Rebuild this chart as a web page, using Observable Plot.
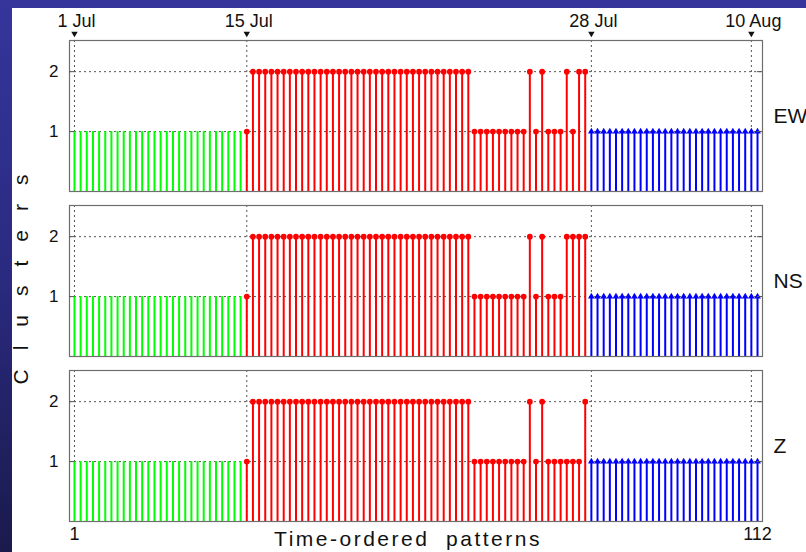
<!DOCTYPE html>
<html>
<head>
<meta charset="utf-8">
<script src="https://cdn.jsdelivr.net/npm/d3@7"></script>
<script src="https://cdn.jsdelivr.net/npm/@observablehq/plot@0.6"></script>
<style>
  html, body { margin: 0; padding: 0; }
  body { width: 806px; height: 552px; overflow: hidden; font-family: "Liberation Sans", Arial, sans-serif; }
  #bg { position: relative; width: 806px; height: 552px; background: linear-gradient(to bottom, #35359c 0%, #2a2a80 50%, #1a1a4c 100%); }
  #white { position: absolute; left: 12px; top: 8px; width: 794px; height: 544px; background: #ffffff; }
  #chart { position: absolute; left: 0; top: 0; }
  #xtitle { position: absolute; left: 208px; width: 400px; top: 528px; line-height: 22px; font-size: 21px; letter-spacing: 2.5px; text-align: center; white-space: pre; color: #111; }
  #ytitle { position: absolute; left: -109px; width: 260px; top: 259px; height: 22px; line-height: 22px; font-size: 21px; letter-spacing: 19px; text-align: center; white-space: pre; transform: rotate(-90deg); transform-origin: center; color: #111; }
</style>
</head>
<body>
<div id="bg">
  <div id="white"></div>
  <div id="chart"></div>
  <div id="xtitle">Time-ordered  patterns</div>
  <div id="ytitle">Clusters</div>
</div>
<script>
// Components (one panel each)
const components = ["EW", "NS", "Z"];

// Cluster assigned to each of the 112 time-ordered patterns (rows of 14)
const clustersEW = [
  1,1,1,1,1,1,1,1,1,1,1,1,1,1,
  1,1,1,1,1,1,1,1,1,1,1,1,1,1,
  1,2,2,2,2,2,2,2,2,2,2,2,2,2,
  2,2,2,2,2,2,2,2,2,2,2,2,2,2,
  2,2,2,2,2,2,2,2,2,1,1,1,1,1,
  1,1,1,1,2,1,2,1,1,1,2,1,2,2,
  1,1,1,1,1,1,1,1,1,1,1,1,1,1,
  1,1,1,1,1,1,1,1,1,1,1,1,1,1
];
const clustersNS = [
  1,1,1,1,1,1,1,1,1,1,1,1,1,1,
  1,1,1,1,1,1,1,1,1,1,1,1,1,1,
  1,2,2,2,2,2,2,2,2,2,2,2,2,2,
  2,2,2,2,2,2,2,2,2,2,2,2,2,2,
  2,2,2,2,2,2,2,2,2,1,1,1,1,1,
  1,1,1,1,2,1,2,1,1,1,2,2,2,2,
  1,1,1,1,1,1,1,1,1,1,1,1,1,1,
  1,1,1,1,1,1,1,1,1,1,1,1,1,1
];
const clustersZ = [
  1,1,1,1,1,1,1,1,1,1,1,1,1,1,
  1,1,1,1,1,1,1,1,1,1,1,1,1,1,
  1,2,2,2,2,2,2,2,2,2,2,2,2,2,
  2,2,2,2,2,2,2,2,2,2,2,2,2,2,
  2,2,2,2,2,2,2,2,2,1,1,1,1,1,
  1,1,1,1,2,1,2,1,1,1,1,1,1,2,
  1,1,1,1,1,1,1,1,1,1,1,1,1,1,
  1,1,1,1,1,1,1,1,1,1,1,1,1,1
];

// Periods: last pattern of each period and its colour
const periodLast = [28, 84, 112];
const periodColors = ["#00ff00", "#ff0000", "#0000ff"];

// Date markers along the top
const dateLabels = ["1 Jul", "15 Jul", "28 Jul", "10 Aug"];
const datePatterns = [1, 29, 85, 111];

// Axis ticks
const xTickValues = [1, 112];
const yTickValues = [1, 2];

// ---- build table ----
const seriesByComp = [clustersEW, clustersNS, clustersZ];
const rows = [];
components.forEach((comp, k) => {
  seriesByComp[k].forEach((v, j) => {
    const i = j + 1;
    const period = periodLast.findIndex(last => i <= last);
    rows.push({comp, i, v, period});
  });
});
const dateRows = datePatterns.map((p, k) => ({x: p, label: dateLabels[k], fy: components[0]}));
const xTickRows = xTickValues.map(x => ({x, label: String(x), fy: components[components.length - 1]}));

const XMIN = 0.19, XMAX = 112.81;
const gridStyle = {stroke: "#555", strokeWidth: 1, strokeDasharray: "2,3"};

const stemMarks = periodColors.map((c, p) =>
  Plot.ruleX(rows.filter(d => d.period === p), {x: "i", y1: 0, y2: "v", fy: "comp", stroke: c, strokeWidth: 2})
);

const chart = Plot.plot({
  width: 806,
  height: 552,
  marginTop: 39,
  marginBottom: 30,
  marginLeft: 69,
  marginRight: 44,
  style: {background: "transparent", fontFamily: "'Liberation Sans', Arial, sans-serif", overflow: "visible", color: "#111"},
  x: {domain: [XMIN, XMAX], axis: null},
  y: {domain: [0, 2.52], axis: null},
  fy: {domain: components, paddingInner: 0.0845, paddingOuter: 0, axis: null},
  marks: [
    Plot.ruleY(yTickValues, gridStyle),
    Plot.ruleX(datePatterns, gridStyle),
    ...stemMarks,
    Plot.dot(rows.filter(d => d.period === 1), {x: "i", y: "v", fy: "comp", r: 2.9, fill: periodColors[1], stroke: "none"}),
    Plot.dot(rows.filter(d => d.period === 2), {x: "i", y: "v", fy: "comp", r: 2.5, symbol: "triangle", fill: periodColors[2], stroke: "none"}),
    Plot.frame({stroke: "#6e6e6e", strokeWidth: 1.2}),
    Plot.ruleY(yTickValues, {x1: XMIN, x2: XMIN + 0.85, stroke: "#555"}),
    Plot.ruleY(yTickValues, {x1: XMAX - 0.85, x2: XMAX, stroke: "#555"}),
    Plot.text(yTickValues, {y: d => d, text: d => String(d), frameAnchor: "left", textAnchor: "end", dx: -11, fontSize: 17}),
    Plot.text(components, {fy: d => d, text: d => d, frameAnchor: "right", textAnchor: "start", dx: 11, fontSize: 21}),
    Plot.text(dateRows, {x: "x", fy: "fy", text: "label", frameAnchor: "top", lineAnchor: "middle", dy: -19, dx: 2, fontSize: 18}),
    Plot.dot(dateRows, {x: "x", fy: "fy", frameAnchor: "top", dy: -7, symbol: "triangle", rotate: 180, r: 2.4, fill: "#111", stroke: "none"}),
    Plot.text(xTickRows, {x: "x", fy: "fy", text: "label", frameAnchor: "bottom", lineAnchor: "top", dy: 6, fontSize: 18})
  ]
});
document.getElementById("chart").appendChild(chart);
</script>
</body>
</html>
